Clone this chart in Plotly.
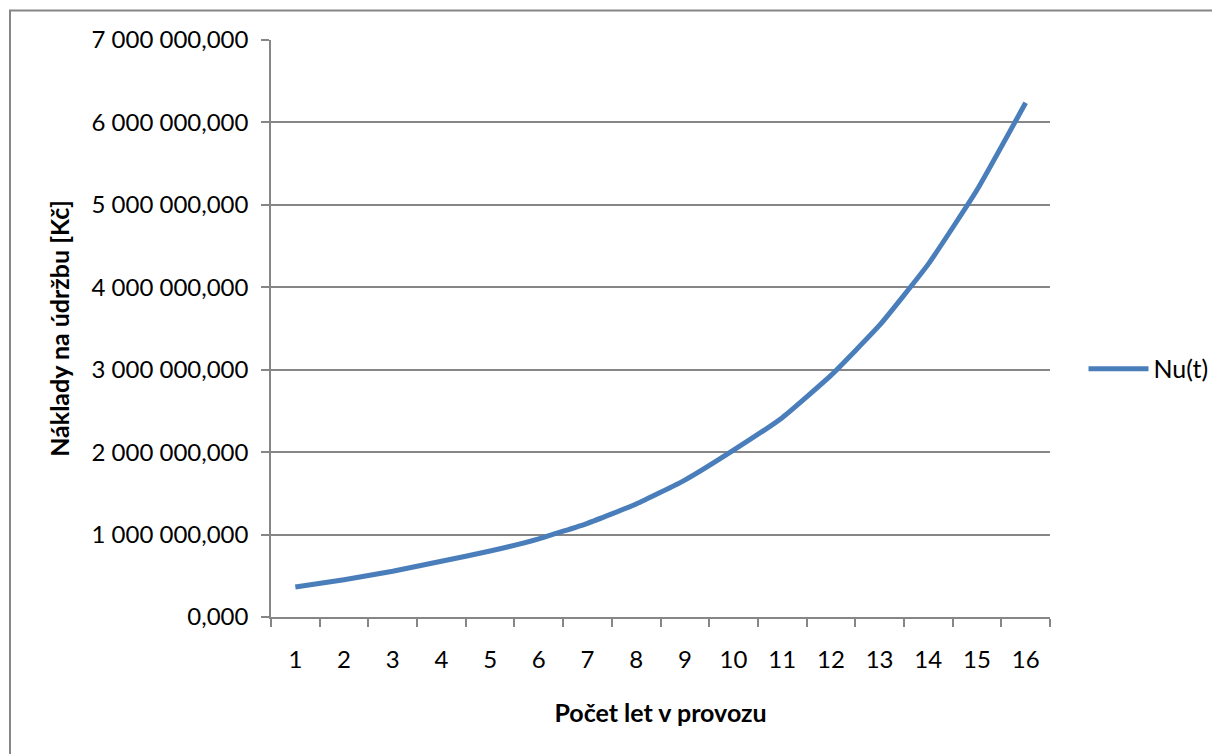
import plotly.graph_objects as go

years = [str(i) for i in range(1, 17)]
costs = [0.363e9, 0.452e9, 0.556e9, 0.677e9, 0.800e9, 0.948e9, 1.137e9, 1.370e9,
         1.661e9, 2.024e9, 2.418e9, 2.931e9, 3.540e9, 4.281e9, 5.180e9, 6.239e9]
series_name = "Nu(t)"
y_ticks = [0, 1e9, 2e9, 3e9, 4e9, 5e9, 6e9, 7e9]
y_tick_labels = ["0,000", "1 000 000,000", "2 000 000,000", "3 000 000,000",
                 "4 000 000,000", "5 000 000,000", "6 000 000,000", "7 000 000,000"]
x_title = "Počet let v provozu"
y_title = "Náklady na údržbu [Kč]"

FONT = "Lato"
GRID = "#868686"

# page body has an 8px margin, so offsets compensate for it
L, T, PW, PH = 263, 32, 779, 577

fig = go.Figure()
fig.add_trace(go.Scatter(
    x=years, y=costs, mode="lines", name=series_name,
    line=dict(color="#4A7EBB", width=5, shape="spline", smoothing=0.4),
))

fig.update_layout(
    width=1220, height=754,
    margin=dict(l=L, r=1220 - L - PW, t=T, b=754 - T - PH),
    paper_bgcolor="white", plot_bgcolor="white",
    font=dict(family=FONT, size=24, color="black"),
    showlegend=True,
    legend=dict(x=1.043, y=0.43, xanchor="left", yanchor="middle",
                font=dict(family=FONT, size=25, color="black"),
                bgcolor="rgba(0,0,0,0)", itemwidth=60),
    xaxis=dict(
        type="category", range=[-0.5, 15.5],
        showgrid=False, showline=True, linecolor=GRID, linewidth=1.5,
        ticks="outside", ticklen=8, tickcolor=GRID, tickwidth=1.5,
        tickson="boundaries", ticklabelstandoff=20,
        tickfont=dict(family=FONT, size=24),
        title=dict(text=x_title, font=dict(family=FONT, size=25, weight="bold"), standoff=33),
        zeroline=False,
    ),
    yaxis=dict(
        range=[0, 7e9], tickvals=y_ticks, ticktext=y_tick_labels,
        showgrid=True, gridcolor=GRID, gridwidth=1.5,
        showline=True, linecolor=GRID, linewidth=1.5,
        ticks="outside", ticklen=8, tickcolor=GRID, tickwidth=1.5,
        ticklabelstandoff=8,
        tickfont=dict(family=FONT, size=24),
        title=dict(text=y_title, font=dict(family=FONT, size=25, weight="bold"), standoff=15),
        zeroline=False,
    ),
    shapes=[dict(type="rect", xref="paper", yref="paper",
                 x0=(10 - 271) / PW, x1=(1240 - 271) / PW,
                 y0=(617 - 780) / PH, y1=(617 - 10.5) / PH,
                 line=dict(color=GRID, width=2), fillcolor="rgba(0,0,0,0)", layer="below")],
)

fig.write_html("out.html")
